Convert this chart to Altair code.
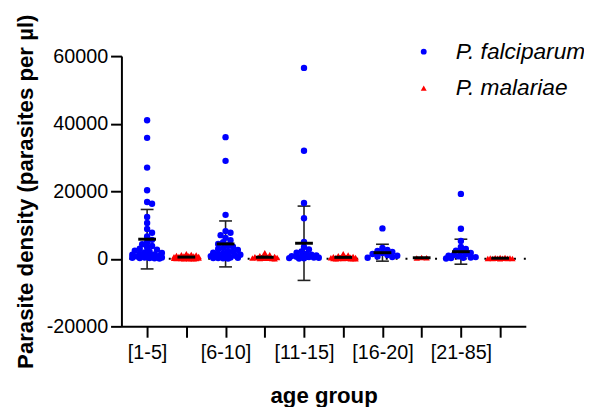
import altair as alt
import pandas as pd
import numpy as np

groups = ["[1-5]", "[6-10]", "[11-15]", "[16-20]", "[21-85]"]
species = ["P. falciparum", "P. malariae"]

falc_1 = [41000, 35800, 27000, 20300, 16800, 16300, 12400, 10600, 8800, 7700, 6600, 5600,
          4900, 4300, 3800, 3400, 3000, 2700, 2400, 2100, 1900, 1700, 1500, 1300, 1200, 1000,
          900, 800, 700, 600, 500, 400, 350, 300, 250, 200, 150, 100]
falc_2 = [36000, 29000, 13000, 8200, 7700, 7000, 6200, 5500, 4900, 4400, 4000, 3600, 3200,
          2900, 2600, 2300, 2000, 1800, 1600, 1400, 1200, 1000, 900, 800, 700, 600, 500, 400,
          300, 250, 200, 150, 100]
falc_3 = [56500, 32000, 16500, 12000, 5000, 3500, 2800, 2200, 1800, 1500, 1200, 1000, 800,
          700, 600, 500, 400, 300, 200, 150, 100]
falc_4 = [9000, 3200, 2600, 2300, 2000, 1700, 1400, 1100, 900, 700, 500, 300]
falc_5 = [19200, 8900, 5300, 3500, 2900, 2400, 2000, 1700, 1400, 1100, 900, 700, 500, 400,
          300, 200, 100]

mal_1 = [1500, 1300, 1200, 1100, 1000, 900, 850, 800, 700, 650, 600, 550, 500, 450, 400, 350,
         300, 280, 250, 220, 200, 180, 150, 120, 100, 80, 60, 50, 40, 30]
mal_2 = [1800, 1200, 900, 700, 600, 500, 400, 350, 300, 250, 200, 150, 100, 80, 50]
mal_3 = [1500, 1100, 900, 700, 600, 500, 450, 400, 350, 300, 250, 200, 150, 120, 100, 80,
         60, 40, 30, 20]
mal_4 = [350, 300, 250]
mal_5 = [400, 350, 300, 250, 200, 180, 150, 120, 100, 80, 60, 50]

falc_mean = [5800, 4400, 4600, 1800, 2100]
falc_sd = [8800, 6800, 11000, 2500, 3700]
mal_mean = [500, 450, 420, 300, 180]
mal_sd = [400, 420, 380, 60, 110]

y_ticks = [-20000, 0, 20000, 40000, 60000]

# ---- layout helpers (deterministic beeswarm offsets) ----
W, H = 410, 274
X_DOM = [0.345, 10.655]
Y_DOM = [-20000, 60000]
XPX = W / (X_DOM[1] - X_DOM[0])
YPX = H / (Y_DOM[1] - Y_DOM[0])


def swarm(vals, diam, step, max_w):
    placed, offs = [], []
    cands = [0.0]
    m = 1
    while m * step <= max_w:
        cands += [m * step, -m * step]
        m += 1
    for v in sorted(vals, reverse=True):
        y = v * YPX
        best, best_d = 0.0, -1
        chosen = None
        for c in cands:
            dmin = min([np.hypot(c - px, y - py) for px, py in placed] + [1e9])
            if dmin >= diam:
                chosen = c
                break
            if dmin > best_d:
                best_d, best = dmin, c
        if chosen is None:
            chosen = best
        placed.append((chosen, y))
        offs.append((v, chosen / XPX))
    return offs


falc = [falc_1, falc_2, falc_3, falc_4, falc_5]
mal = [mal_1, mal_2, mal_3, mal_4, mal_5]

rows = []
for i in range(5):
    for j, (sets, d, st, mw) in enumerate([(falc, 5.0, 2.5, 15), (mal, 4.5, 2.5, 13)]):
        base = 2 * i + j + 1
        for v, off in swarm(sets[i], d, st, mw):
            rows.append({"pos": base + off, "value": v, "species": species[j]})
pts = pd.DataFrame(rows)

srows = []
for i in range(5):
    for j, (mn, sd) in enumerate([(falc_mean, falc_sd), (mal_mean, mal_sd)]):
        srows.append({"pos": 2 * i + j + 1, "mean": mn[i], "lo": mn[i] - sd[i],
                      "hi": mn[i] + sd[i], "species": species[j]})
summ = pd.DataFrame(srows)

FONT = "Liberation Sans"

label_expr = ("datum.value == 1 ? '[1-5]' : datum.value == 3 ? '[6-10]' : "
              "datum.value == 5 ? '[11-15]' : datum.value == 7 ? '[16-20]' : "
              "datum.value == 9 ? '[21-85]' : ''")

x_enc = alt.X("pos:Q", scale=alt.Scale(domain=X_DOM, nice=False, zero=False),
              axis=alt.Axis(values=list(range(1, 11)), labelExpr=label_expr,
                            title="age group", grid=False))
y_scale = alt.Scale(domain=Y_DOM, nice=False)

zero = alt.Chart(pd.DataFrame({"z": [0]})).mark_rule(
    color="black", strokeWidth=2, strokeDash=[2, 8]
).encode(y=alt.Y("z:Q", scale=y_scale))

err = alt.Chart(summ).mark_rule(color="#222222", strokeWidth=1.6).encode(
    x=x_enc,
    y=alt.Y("lo:Q", scale=y_scale),
    y2="hi:Q",
)
cap_lo = alt.Chart(summ).mark_tick(orient="horizontal", size=13, thickness=1.6,
                                   color="#222222", opacity=1).encode(
    x=x_enc, y=alt.Y("lo:Q", scale=y_scale))
cap_hi = alt.Chart(summ).mark_tick(orient="horizontal", size=13, thickness=1.6,
                                   color="#222222", opacity=1).encode(
    x=x_enc, y=alt.Y("hi:Q", scale=y_scale))

points = alt.Chart(pts).mark_point(filled=True, opacity=1, size=42).encode(
    x=x_enc,
    y=alt.Y("value:Q", scale=y_scale,
            axis=alt.Axis(values=y_ticks, grid=False,
                          labelExpr="datum.value < 0 ? '-' + abs(datum.value) : '' + datum.value",
                          title="Parasite density (parasites per µl)")),
    color=alt.Color("species:N", scale=alt.Scale(domain=species, range=["#0000ff", "#ff0000"]),
                    legend=alt.Legend(title=None, orient="none", legendX=295, legendY=-16,
                                      labelFontSize=23, labelFontStyle="italic",
                                      labelFont=FONT, labelColor="black",
                                      symbolSize=36, labelOffset=21, rowPadding=13,
                                      padding=0, symbolStrokeWidth=0)),
    shape=alt.Shape("species:N", scale=alt.Scale(domain=species,
                                                  range=["circle", "triangle-up"])),
)

mean_tick = alt.Chart(summ).mark_tick(orient="horizontal", size=18, thickness=3,
                                      color="black", opacity=1).encode(
    x=x_enc, y=alt.Y("mean:Q", scale=y_scale))

chart = alt.layer(zero, err, cap_lo, cap_hi, points, mean_tick).properties(
    width=W, height=H,
    autosize=alt.AutoSizeParams(type="none"),
    padding={"left": 115, "top": 46, "right": 59, "bottom": 79},
).configure_view(stroke=None).configure_axis(
    domainColor="black", domainWidth=2, tickColor="black", tickWidth=2, tickSize=11,
    labelFont=FONT, labelFontSize=20, labelColor="black",
    titleFont=FONT, titleFontSize=22.5, titleFontWeight="bold", titleColor="black",
).configure_axisY(
    labelPadding=3, titlePadding=9,
).configure_axisX(
    labelPadding=6, titlePadding=22,
)

chart.save("out.html", embed_options={"renderer": "svg", "actions": False})
